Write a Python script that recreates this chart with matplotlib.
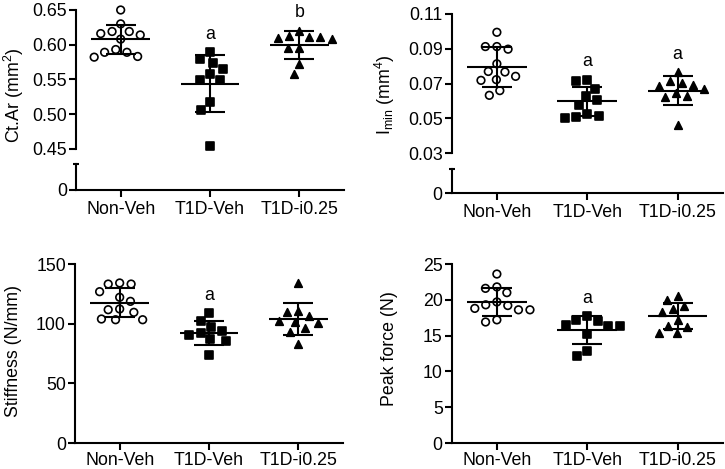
import numpy as np
import matplotlib
matplotlib.use('Agg')
import matplotlib.pyplot as plt
from matplotlib.ticker import FormatStrFormatter

plt.rcParams['font.family'] = ['Liberation Sans', 'DejaVu Sans']
plt.rcParams['mathtext.fontset'] = 'custom'
plt.rcParams['mathtext.rm'] = 'Liberation Sans'
plt.rcParams['mathtext.it'] = 'Liberation Sans:italic'
plt.rcParams['font.size'] = 12.5

groups = ['Non-Veh', 'T1D-Veh', 'T1D-i0.25']
markers = ['o', 's', '^']

# Ct.Ar (mm2)
ctar_non = [0.650, 0.630, 0.619, 0.614, 0.616, 0.619, 0.608, 0.593, 0.589, 0.582, 0.583, 0.589]
ctar_veh = [0.589, 0.573, 0.580, 0.565, 0.557, 0.549, 0.549, 0.517, 0.506, 0.454]
ctar_i025 = [0.613, 0.609, 0.611, 0.611, 0.608, 0.620, 0.595, 0.595, 0.572, 0.557]
ctar_letters = ['', 'a', 'b']

# Imin (mm4)
imin_non = [0.0995, 0.0913, 0.0898, 0.0913, 0.0814, 0.0767, 0.0723, 0.0719, 0.0742, 0.0770, 0.0633, 0.0660]
imin_veh = [0.0723, 0.0717, 0.0672, 0.0628, 0.0607, 0.0577, 0.0517, 0.0504, 0.0507, 0.0523]
imin_i025 = [0.0765, 0.0717, 0.0694, 0.0704, 0.0689, 0.0671, 0.0631, 0.0622, 0.0647, 0.0462]
imin_letters = ['', 'a', 'a']

# Stiffness (N/mm)
stiff_non = [133.2, 133.2, 134.1, 126.8, 122.1, 118.7, 112.3, 103.9, 103.3, 103.3, 109.5, 111.7]
stiff_veh = [108.7, 102.0, 97.0, 92.2, 90.8, 94.1, 87.1, 85.2, 73.7]
stiff_i025 = [134.1, 109.5, 110.4, 102.5, 100.5, 101.1, 106.2, 96.1, 92.7, 83.0]
stiff_letters = ['', 'a', '']

# Peak force (N)
peak_non = [23.6, 21.6, 21.8, 21.0, 19.7, 19.2, 18.6, 18.6, 18.8, 19.3, 16.9, 17.2]
peak_veh = [17.7, 17.1, 17.2, 16.5, 16.4, 16.4, 15.2, 12.2, 12.8]
peak_i025 = [20.5, 20.0, 18.3, 19.2, 18.7, 17.2, 16.2, 15.4, 15.4, 16.4]
peak_letters = ['', 'a', '']

W, H = 725, 469
fig = plt.figure(figsize=(W / 100, H / 100), dpi=100)


def px_axes(x0, y0, x1, y1):
    # pixel box (top-down) -> figure axes
    return fig.add_axes([x0 / W, 1 - y1 / H, (x1 - x0) / W, (y1 - y0) / H])


def style(ax):
    for s in ['top', 'right']:
        ax.spines[s].set_visible(False)
    for s in ['left', 'bottom']:
        ax.spines[s].set_linewidth(1.5)
    ax.tick_params(width=1.5, length=5, pad=1.5, labelsize=12.8)
    ax.set_xlim(-0.5, 2.5)
    ax.patch.set_alpha(0)


def swarm(ax, x0, vals, d=11.5):
    # simple beeswarm in pixel space, like the GraphPad scatter layout
    pts = ax.transData.transform(np.column_stack([np.full(len(vals), x0), vals]))
    cx = pts[0, 0]
    placed = []
    xs = np.zeros(len(vals))
    for idx in np.argsort(-vals, kind='stable'):
        y = pts[idx, 1]
        near = [(px, py) for px, py in placed if abs(py - y) < d]
        cands = [cx]
        for px, py in near:
            dx = np.sqrt(d ** 2 - (py - y) ** 2)
            cands += [px - dx, px + dx]
        cands.sort(key=lambda c: abs(c - cx))
        for c in cands:
            if all((c - px) ** 2 + (y - py) ** 2 >= d ** 2 - 1e-6 for px, py in near):
                break
        placed.append((c, y))
        xs[idx] = c
    return ax.transData.inverted().transform(np.column_stack([xs, pts[:, 1]]))[:, 0]


def draw_groups(ax, datasets, letters):
    for i, (vals, mk, letter) in enumerate(zip(datasets, markers, letters)):
        vals = np.asarray(vals, dtype=float)
        xs = swarm(ax, i, vals)
        fc = 'none' if mk == 'o' else 'black'
        ax.scatter(xs, vals, marker=mk, s=30, facecolors=fc, edgecolors='black',
                   linewidths=1.2, zorder=3, clip_on=False)
        m, sd = vals.mean(), vals.std(ddof=1)
        ax.hlines(m, i - 0.33, i + 0.33, color='black', lw=1.5, zorder=2)
        ax.errorbar(i, m, yerr=sd, fmt='none', ecolor='black', elinewidth=1.5,
                    capsize=11, capthick=1.5, zorder=2)
        if letter:
            ax.annotate(letter, (i, vals.max()), xytext=(0, 13), textcoords='offset points',
                        ha='center', va='center', fontsize=12.8)


def broken_panel(box_top, box_low, ylim, yticks, fmt, datasets, letters, ylabel, lab_xy):
    top = px_axes(*box_top)
    low = px_axes(*box_low)
    style(top)
    style(low)
    top.spines['bottom'].set_visible(False)
    top.tick_params(bottom=False, labelbottom=False)
    top.set_ylim(*ylim)
    top.set_yticks(yticks)
    top.yaxis.set_major_formatter(FormatStrFormatter(fmt))
    low.set_ylim(0, 1)
    low.set_yticks([0])
    low.set_yticklabels(['0'])
    low.set_yticks([1], minor=True)
    low.tick_params(axis='y', which='minor', direction='inout', length=5, width=1.5)
    low.set_xticks(range(3))
    low.set_xticklabels(groups)
    low.tick_params(axis='x', pad=3)
    draw_groups(top, datasets, letters)
    top.set_ylabel(ylabel, fontsize=12.8, va='center')
    top.yaxis.set_label_coords(*lab_xy)


def single_panel(box, ylim, yticks, datasets, letters, ylabel, lab_xy):
    ax = px_axes(*box)
    style(ax)
    ax.set_ylim(*ylim)
    ax.set_yticks(yticks)
    ax.set_xticks(range(3))
    ax.set_xticklabels(groups)
    ax.tick_params(axis='x', pad=1.5)
    draw_groups(ax, datasets, letters)
    ax.set_ylabel(ylabel, fontsize=12.8, va='center')
    ax.yaxis.set_label_coords(*lab_xy)


broken_panel((76, 10, 344, 148.7), (76, 164, 344, 190), (0.45, 0.65),
             [0.45, 0.50, 0.55, 0.60, 0.65], '%.2f',
             [ctar_non, ctar_veh, ctar_i025], ctar_letters,
             r'Ct.Ar (mm$^\mathregular{2}$)', (-0.231, 0.387))

broken_panel((451.7, 14, 722.7, 153.3), (451.7, 169, 722.7, 193.3), (0.03, 0.11),
             [0.03, 0.05, 0.07, 0.09, 0.11], '%.2f',
             [imin_non, imin_veh, imin_i025], imin_letters,
             r'I$_\mathregular{min}$ (mm$^\mathregular{4}$)', (-0.246, 0.422))

single_panel((75, 264, 343, 443), (0, 150), [0, 50, 100, 150],
             [stiff_non, stiff_veh, stiff_i025], stiff_letters,
             'Stiffness (N/mm)', (-0.231, 0.516))

single_panel((451.7, 264, 722.7, 443), (0, 25), [0, 5, 10, 15, 20, 25],
             [peak_non, peak_veh, peak_i025], peak_letters,
             'Peak force (N)', (-0.228, 0.525))

fig.savefig('out.png', dpi=100)
